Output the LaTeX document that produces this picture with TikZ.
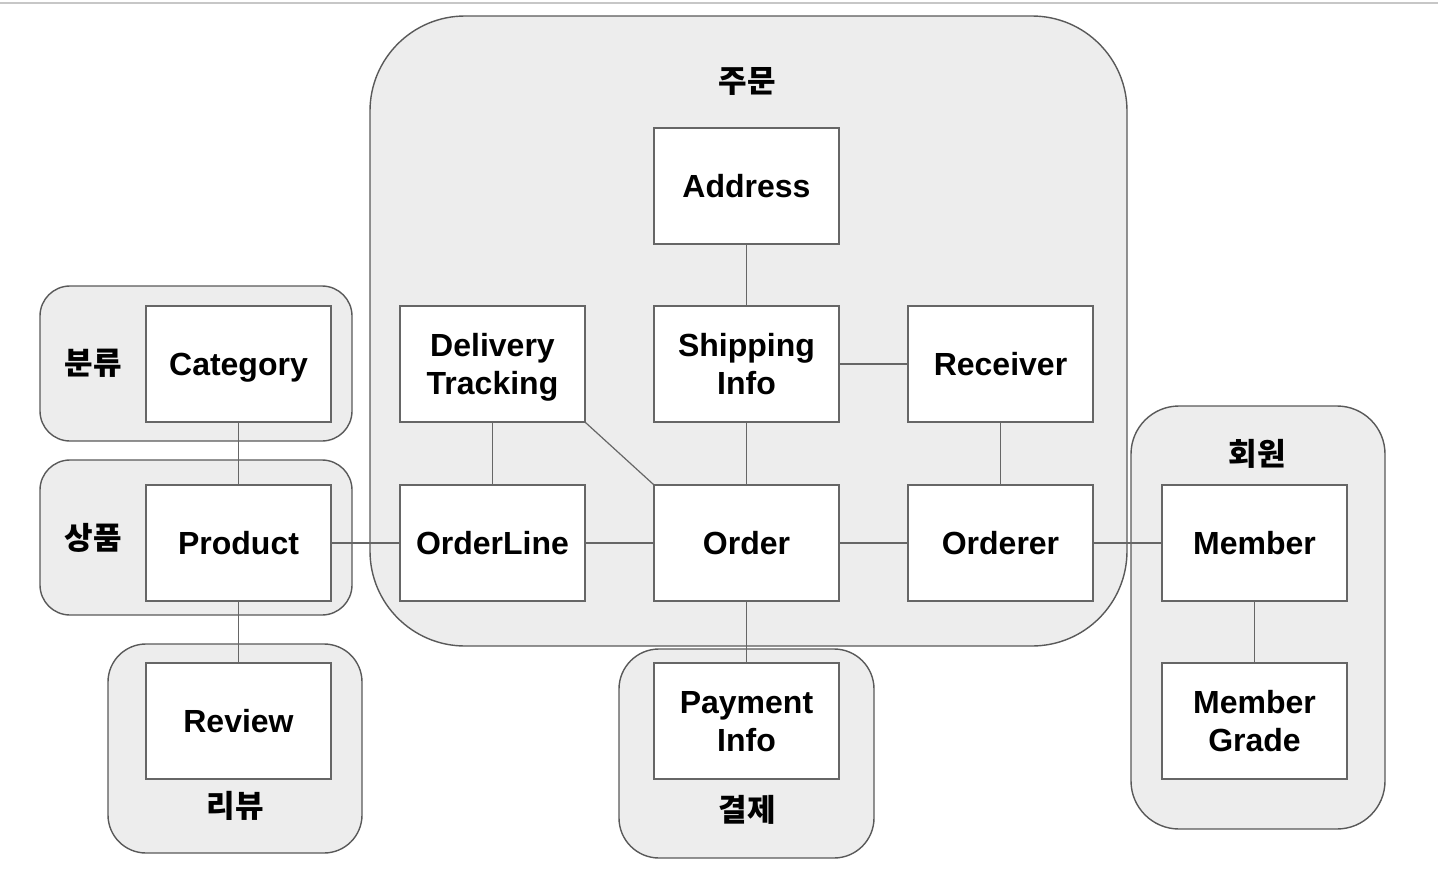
\documentclass[tikz,border=0pt]{standalone}
\usepackage{fontspec}
\setmainfont{Liberation Sans}
\newfontfamily\krfont{Noto Sans CJK KR}
% line box with the ascent and descent of the font, so every line sits alike
\newcommand\lnbox{\rule[-0.212em]{0pt}{1.117em}}
\begin{document}
\begin{tikzpicture}[x=1pt,y=-1pt,
  entity/.style={draw=black!60, line width=1.2pt, fill=white,
    minimum width=185pt, minimum height=116pt, inner sep=0pt,
    align=center, font=\fontsize{32}{38}\selectfont\bfseries},
  context/.style={draw=black!65, line width=1.4pt, fill=black!7,
    inner sep=0pt},
  ctxlabel/.style={font=\fontsize{31}{36}\selectfont\krfont\bfseries, inner sep=0pt},
  link/.style={draw=black!60, line width=1.2pt}]
\useasboundingbox (0,0) rectangle (1438,876);
% page rule at the top
\coordinate (ruleL) at (0,3);
\coordinate (ruleR) at (1438,3);
\draw[black!22, line width=2pt] (ruleL) -- (ruleR);

% bounded contexts
\node[context, minimum width=757pt, minimum height=630pt, rounded corners=95pt] (gOrder) at (748.5,331) {};
\node[context, minimum width=312pt, minimum height=155pt, rounded corners=30pt] (gCat) at (196,363.5) {};
\node[context, minimum width=312pt, minimum height=155pt, rounded corners=30pt] (gProd) at (196,537.5) {};
\node[context, minimum width=254pt, minimum height=209pt, rounded corners=38pt] (gRev) at (235,748.5) {};
\node[context, minimum width=255pt, minimum height=209pt, rounded corners=40pt] (gPay) at (746.5,753.5) {};
\node[context, minimum width=254pt, minimum height=423pt, rounded corners=48pt] (gMem) at (1258,617.5) {};

% context names
\node[ctxlabel] (lOrder) at (747,81) {주문};
\node[ctxlabel] (lCat) at (93,363) {분류};
\node[ctxlabel] (lProd) at (93,538) {상품};
\node[ctxlabel] (lRev) at (235,806) {리뷰};
\node[ctxlabel] (lPay) at (747,810) {결제};
\node[ctxlabel] (lMem) at (1257,454) {회원};

% entities
\node[entity] (address) at (746.5,186) {\lnbox Address};
\node[entity] (delivery) at (492.5,364) {\lnbox Delivery\\\lnbox Tracking};
\node[entity] (shipping) at (746.5,364) {\lnbox Shipping\\\lnbox Info};
\node[entity] (receiver) at (1000.5,364) {\lnbox Receiver};
\node[entity] (orderline) at (492.5,543) {\lnbox OrderLine};
\node[entity] (order) at (746.5,543) {\lnbox Order};
\node[entity] (orderer) at (1000.5,543) {\lnbox Orderer};
\node[entity] (category) at (238.5,364) {\lnbox Category};
\node[entity] (product) at (238.5,543) {\lnbox Product};
\node[entity] (review) at (238.5,721) {\lnbox Review};
\node[entity] (payment) at (746.5,721) {\lnbox Payment\\\lnbox Info};
\node[entity] (member) at (1254.5,543) {\lnbox Member};
\node[entity] (grade) at (1254.5,721) {\lnbox Member\\\lnbox Grade};

% associations
\path[link] (address) -- (shipping);
\path[link] (shipping) -- (receiver);
\path[link] (shipping) -- (order);
\path[link] (receiver) -- (orderer);
\path[link] (delivery) -- (orderline);
\path[link] (delivery.south east) -- (order.north west);
\path[link] (product) -- (orderline);
\path[link] (orderline) -- (order);
\path[link] (order) -- (orderer);
\path[link] (orderer) -- (member);
\path[link] (member) -- (grade);
\path[link] (category) -- (product);
\path[link] (product) -- (review);
\path[link] (order) -- (payment);
\end{tikzpicture}
\end{document}
